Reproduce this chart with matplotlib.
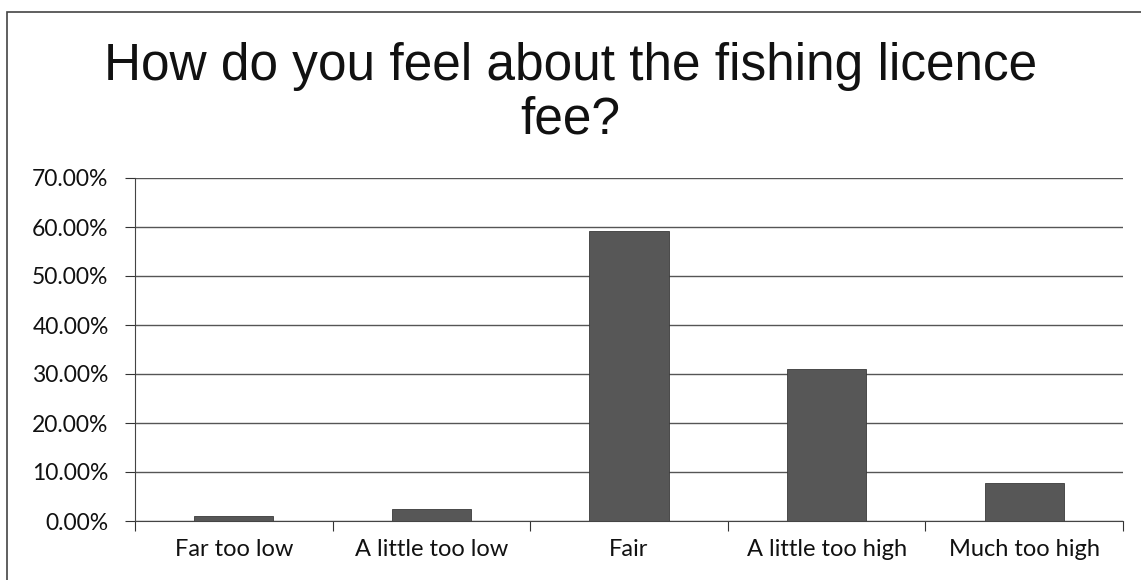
import matplotlib as mpl
import matplotlib.pyplot as plt
from matplotlib.patches import Rectangle
from matplotlib.ticker import FuncFormatter, FixedLocator
import numpy as np

# data
categories = ["Far too low", "A little too low", "Fair", "A little too high", "Much too high"]
values = [1.0, 2.4, 59.2, 31.0, 7.8]  # percent
yticks = [0, 10, 20, 30, 40, 50, 60, 70]
title = "How do you feel about the fishing licence\nfee?"

fig = plt.figure(figsize=(11.41, 5.80), dpi=100)
fig.patch.set_facecolor("white")

# outer chart frame (cut off at right and bottom in the scan)
frame = Rectangle((7/1141, -0.05), 1.2, 1 - 12/580 + 0.05, transform=fig.transFigure,
                  fill=False, edgecolor="#444444", lw=1.2)
fig.patches.append(frame)

ax = fig.add_axes([135/1141, 1 - 521/580, (1123 - 135)/1141, (521 - 178)/580])

x = np.arange(len(categories))
ax.bar(x, values, width=0.4, color="#575757", edgecolor="#3a3a3a", lw=0.6, zorder=3)

ax.set_xlim(-0.5, len(categories) - 0.5)
ax.set_ylim(0, 70)
ax.yaxis.set_major_locator(FixedLocator(yticks))
ax.yaxis.set_major_formatter(FuncFormatter(lambda v, p: "%.2f%%" % v))
ax.grid(axis="y", color="#555555", lw=1.0, zorder=0)

# category labels centred, ticks on the boundaries
ax.set_xticks(np.arange(len(categories) + 1) - 0.5)
ax.set_xticklabels([])
ax.set_xticks(x, minor=True)
ax.set_xticklabels(categories, minor=True, fontsize=17, family="Lato", color="#111111")
ax.tick_params(axis="x", which="minor", length=0, pad=13)
ax.tick_params(axis="x", which="major", direction="out", length=7, color="#333333")
ax.tick_params(axis="y", direction="out", length=7, color="#333333", pad=12)
for lab in ax.get_yticklabels():
    lab.set_fontsize(16.5)
    lab.set_family("Lato")
    lab.set_color("#111111")

for s in ["top", "right"]:
    ax.spines[s].set_visible(False)
ax.spines["left"].set_color("#444444")
ax.spines["bottom"].set_color("#444444")

fig.text(0.5, 1 - 93/580, title, ha="center", va="center", fontsize=37,
         family="Liberation Sans", color="#111111", linespacing=1.12)

fig.savefig("out.png", dpi=100)
